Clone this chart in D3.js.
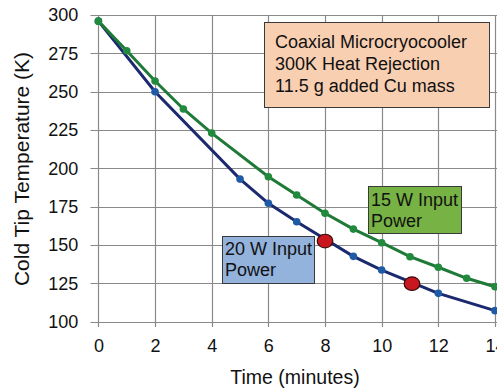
<!DOCTYPE html>
<html><head><meta charset="utf-8">
<script src="https://cdn.jsdelivr.net/npm/d3@7"></script>
<style>body{margin:0;background:#fff}svg{display:block;font-family:"Liberation Sans",Arial,sans-serif}</style>
</head><body>
<svg id="c" width="497" height="392"></svg>
<script>
const xTicks = [0,2,4,6,8,10,12,14];
const yTicks = [100,125,150,175,200,225,250,275,300];
const time20 = [0,2,5,6,7,9,10,12,14];
const temp20 = [296,250,193,177.2,165.2,142.6,133.7,118.5,107.2];
const time15 = [0,1,2,3,4,6,7,8,9,10,11,12,13,14];
const temp15 = [296,276.7,257,238.7,223,194.5,182.6,170.7,160.4,151.5,142.4,135.5,128.3,122.8];
const redTimes = [8,11.07];
const redTemps = [152.6,124.8];
const xTitle = "Time (minutes)";
const yTitle = "Cold Tip Temperature (K)";
const infoLines = ["Coaxial Microcryocooler","300K Heat Rejection","11.5 g added Cu mass"];
const label15 = ["15 W Input","Power"];
const label20 = ["20 W Input","Power"];

const svg = d3.select("#c");
const x = d3.scaleLinear().domain([0,14]).range([98.4,495]);
const y = d3.scaleLinear().domain([100,300]).range([321.7,15]);
const grid = "#8a8a8a";

// gridlines
const g = svg.append("g");
g.selectAll(".hg").data(yTicks).join("line")
  .attr("x1",90.5).attr("x2",497).attr("y1",d=>Math.round(y(d))+0.5).attr("y2",d=>Math.round(y(d))+0.5)
  .attr("stroke",grid).attr("stroke-width",1.2);
g.selectAll(".vg").data(xTicks).join("line")
  .attr("x1",d=>Math.round(x(d))+0.5).attr("x2",d=>Math.round(x(d))+0.5).attr("y1",y(300)).attr("y2",327)
  .attr("stroke",grid).attr("stroke-width",1.2);

// axes labels
const xa = svg.append("g").attr("transform",`translate(0,${y(100)})`)
  .call(d3.axisBottom(x).tickValues(xTicks).tickSize(0).tickPadding(18));
const ya = svg.append("g").attr("transform",`translate(${x(0)},0)`)
  .call(d3.axisLeft(y).tickValues(yTicks).tickSize(0).tickPadding(20));
[xa,ya].forEach(a=>{a.select(".domain").remove();
  a.selectAll("text").attr("font-size",18).attr("fill","#111").attr("font-family","Liberation Sans, Arial, sans-serif");});

svg.append("text").attr("x",295).attr("y",384).attr("text-anchor","middle")
  .attr("font-size",19.5).attr("fill","#111").text(xTitle);
svg.append("text").attr("transform",`translate(29,169) rotate(-90)`).attr("text-anchor","middle")
  .attr("font-size",21).attr("fill","#111").text(yTitle);

const line = d3.line().x(d=>x(d[0])).y(d=>y(d[1]));
const d20 = time20.map((t,i)=>[t,temp20[i]]);
const d15 = time15.map((t,i)=>[t,temp15[i]]);

svg.append("path").datum(d20).attr("d",line).attr("fill","none").attr("stroke","#1b2a6e").attr("stroke-width",3);
svg.selectAll(".m20").data(d20).join("circle").attr("cx",d=>x(d[0])).attr("cy",d=>y(d[1])).attr("r",3.8).attr("fill","#1f5aa6");
svg.append("path").datum(d15).attr("d",line).attr("fill","none").attr("stroke","#1f7a38").attr("stroke-width",3);
svg.selectAll(".m15").data(d15).join("circle").attr("cx",d=>x(d[0])).attr("cy",d=>y(d[1])).attr("r",3.8).attr("fill","#218a3c");

// boxes
function box(x0,y0,w,h,fill,lines,tx,ty,lh){
  svg.append("rect").attr("x",x0).attr("y",y0).attr("width",w).attr("height",h)
    .attr("fill",fill).attr("stroke","#3a3a3a").attr("stroke-width",1);
  const t = svg.append("text").attr("font-size",18).attr("fill","#111");
  lines.forEach((l,i)=>t.append("tspan").attr("x",tx).attr("y",ty+i*lh).text(l));
}
box(264.5,22.5,225,85,"#f9cfb2",infoLines,275,48,22);
box(368.5,186.5,93,47,"#77b244",label15,371,206,21);
box(222.5,236.5,92,47,"#93b2dc",label20,225,255,21);

const dr = redTimes.map((t,i)=>[t,redTemps[i]]);
svg.selectAll(".red").data(dr).join("ellipse").attr("cx",d=>x(d[0])).attr("cy",d=>y(d[1]))
  .attr("rx",7.8).attr("ry",6.8).attr("fill","#c8171e").attr("stroke","#3a0a0a").attr("stroke-width",1.2);
</script>
</body></html>
